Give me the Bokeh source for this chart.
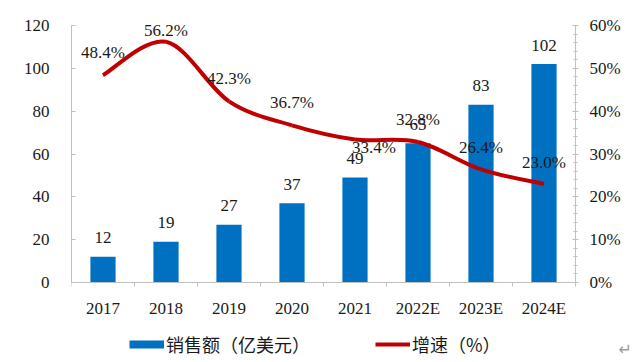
from bokeh.plotting import figure
from bokeh.models import (Range1d, LinearAxis, FixedTicker, ColumnDataSource,
                          Legend, LegendItem, Label, PrintfTickFormatter)
from bokeh.core.properties import value
from bokeh.embed import file_html
from bokeh.resources import INLINE

# ---- data ----
years = ["2017", "2018", "2019", "2020", "2021", "2022E", "2023E", "2024E"]
sales = [12, 19, 27, 37, 49, 65, 83, 102]          # 销售额（亿美元）
growth = [48.4, 56.2, 42.3, 36.7, 33.4, 32.8, 26.4, 23.0]  # 增速（%）
left_ticks = [0, 20, 40, 60, 80, 100, 120]
right_ticks = [0, 10, 20, 30, 40, 50, 60]
sales_name = "销售额（亿美元）"
growth_name = "增速（%）"

# label nudges in pixels (x right, y up) for the growth labels
growth_dx = [0, 0, 0, 0, 19, 0, 0, 0]
growth_dy = [23, 11, 23, 23, -8, 23, 22, 21]

BLUE = "#0070C0"
RED = "#C00000"
GRAY = "#BFBFBF"
TXT = "#1a1a1a"
NUMFONT = "Liberation Serif"
CJKFONT = "Noto Sans CJK SC"

# ---- layout (pixels) ----
W, H = 636, 358
AX_L, AX_R, AX_T, AX_B = 71, 575, 25, 282   # plot-area edges on the page

n = len(years)
xs = [i + 0.5 for i in range(n)]

# the frame covers everything right of the left axis (top to bottom),
# so the legend, the right axis and the stray mark are drawn inside it.
px_per_x = (AX_R - AX_L) / n
ly_span = left_ticks[-1] - left_ticks[0]
ry_span = right_ticks[-1] - right_ticks[0]
ppl = (AX_B - AX_T) / ly_span
ppr = (AX_B - AX_T) / ry_span
x_end = (W - AX_L) / px_per_x
ly_start = left_ticks[0] - (H - AX_B) / ppl
ly_end = left_ticks[-1] + AX_T / ppl
ry_start = right_ticks[0] - (H - AX_B) / ppr
ry_end = right_ticks[-1] + AX_T / ppr

p = figure(width=W, height=H, output_backend="svg", toolbar_location=None,
           x_range=Range1d(0, x_end), y_range=Range1d(ly_start, ly_end),
           min_border_left=AX_L, min_border_right=0, min_border_top=0,
           min_border_bottom=0, x_axis_location=None, y_axis_location=None)
p.extra_y_ranges = {"right": Range1d(ry_start, ry_end)}
p.outline_line_color = None
p.xgrid.visible = False
p.ygrid.visible = False
p.background_fill_color = "white"
p.border_fill_color = "white"

# axes
xax = LinearAxis(ticker=FixedTicker(ticks=xs, minor_ticks=list(range(n + 1))),
                 major_label_overrides={x: y for x, y in zip(xs, years)},
                 fixed_location=left_ticks[0], bounds=(0, n))
xax.axis_line_color = GRAY
xax.major_tick_in = 0
xax.major_tick_out = 0
xax.minor_tick_in = 0
xax.minor_tick_out = 4
xax.minor_tick_line_color = GRAY
xax.major_label_standoff = 12
xax.major_label_text_font = NUMFONT
xax.major_label_text_font_size = "17px"
xax.major_label_text_color = TXT
p.add_layout(xax, "below")

yax = LinearAxis(ticker=FixedTicker(ticks=left_ticks),
                 bounds=(left_ticks[0], left_ticks[-1]))
yax.axis_line_color = GRAY
yax.major_tick_line_color = GRAY
yax.major_tick_in = 4
yax.major_tick_out = 0
yax.minor_tick_line_color = None
yax.major_label_standoff = 22
yax.major_label_text_font = NUMFONT
yax.major_label_text_font_size = "17px"
yax.major_label_text_color = TXT
p.add_layout(yax, "left")

minor_r = [v for v in range(right_ticks[0], right_ticks[-1] + 1, 2) if v % 10]
rax = LinearAxis(y_range_name="right",
                 ticker=FixedTicker(ticks=right_ticks, minor_ticks=minor_r),
                 formatter=PrintfTickFormatter(format="%d%%"),
                 fixed_location=n, bounds=(right_ticks[0], right_ticks[-1]))
rax.axis_line_color = GRAY
rax.major_tick_line_color = GRAY
rax.minor_tick_line_color = GRAY
rax.major_tick_in = 3
rax.major_tick_out = 3
rax.minor_tick_in = 2
rax.minor_tick_out = 2
rax.major_label_standoff = 11
rax.major_label_text_font = NUMFONT
rax.major_label_text_font_size = "17px"
rax.major_label_text_color = TXT
p.add_layout(rax, "right")

# bars
bsrc = ColumnDataSource(dict(x=xs, top=sales, lab=[str(v) for v in sales]))
p.vbar(x="x", top="top", width=0.4, bottom=0, source=bsrc,
       fill_color=BLUE, line_color=None)
p.text(x="x", y="top", text="lab", source=bsrc, text_align="center",
       text_baseline="middle", y_offset=-19, text_font=value(NUMFONT),
       text_font_size="17px", text_color=TXT)

# smoothed growth line (Catmull-Rom style Bezier through the points)
pts = list(zip(xs, growth))
x0, y0, x1, y1, cx0, cy0, cx1, cy1 = ([] for _ in range(8))
for i in range(n - 1):
    pm = pts[i - 1] if i > 0 else pts[i]
    pa = pts[i]
    pb = pts[i + 1]
    pn = pts[i + 2] if i + 2 < n else pts[i + 1]
    x0.append(pa[0]); y0.append(pa[1]); x1.append(pb[0]); y1.append(pb[1])
    cx0.append(pa[0] + (pb[0] - pm[0]) / 6); cy0.append(pa[1] + (pb[1] - pm[1]) / 6)
    cx1.append(pb[0] - (pn[0] - pa[0]) / 6); cy1.append(pb[1] - (pn[1] - pa[1]) / 6)
p.bezier(x0=x0, y0=y0, x1=x1, y1=y1, cx0=cx0, cy0=cy0, cx1=cx1, cy1=cy1,
         line_color=RED, line_width=4, y_range_name="right")

gsrc = ColumnDataSource(dict(x=xs, y=growth, lab=[f"{g:.1f}%" for g in growth],
                             dx=growth_dx, dy=[-d for d in growth_dy]))
p.text(x="x", y="y", text="lab", source=gsrc, x_offset="dx", y_offset="dy",
       text_align="center", text_baseline="middle", y_range_name="right",
       text_font=value(NUMFONT), text_font_size="17px", text_color=TXT)

# legend swatches: hidden renderers styled like the marks
bproxy = p.line(x=xs, y=sales, line_color=BLUE, line_width=8, line_cap="butt",
                visible=False)
lproxy = p.line(x=xs, y=growth, line_color=RED, line_width=4, line_cap="butt",
                y_range_name="right", visible=False)

leg = Legend(items=[LegendItem(label=sales_name, renderers=[bproxy]),
                    LegendItem(label=growth_name, renderers=[lproxy])],
             orientation="horizontal", location=(129 - AX_L, 1),
             glyph_width=35, glyph_height=10, label_height=20,
             label_standoff=2, spacing=65, padding=0, margin=0,
             border_line_color=None, background_fill_alpha=0,
             inactive_fill_alpha=0,
             label_text_font=CJKFONT, label_text_font_size="18px",
             label_text_color=TXT)
p.add_layout(leg)

p.add_layout(Label(x=618 - AX_L, y=0, x_units="screen", y_units="screen",
                   text="↵", text_font="DejaVu Sans", text_font_size="16px",
                   text_color="#9a9a9a"))

open("out.html", "w").write(file_html(p, INLINE))
